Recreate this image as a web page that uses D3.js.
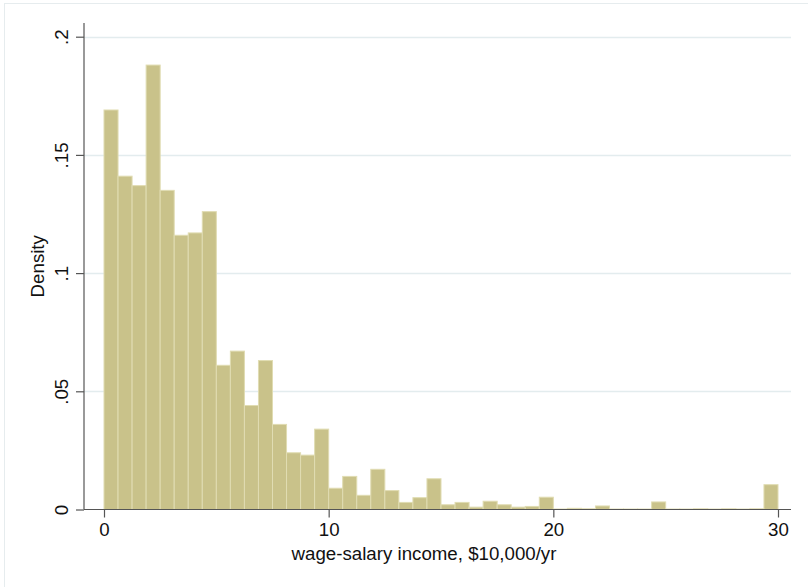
<!DOCTYPE html>
<html>
<head>
<meta charset="utf-8">
<script src="https://cdn.jsdelivr.net/npm/d3@7"></script>
<style>
  html, body { margin: 0; padding: 0; background: #fff; }
  svg { display: block; }
  text { font-family: "Liberation Sans", Arial, Helvetica, sans-serif; fill: #111; }
</style>
</head>
<body>
<svg id="chart" width="808" height="587"></svg>
<script>
// Histogram of wage-salary income (density scale), bins of width 0.625
const binWidth = 0.625;
const binCount = 48;
const densities = [
  0.169, 0.141, 0.137, 0.188, 0.135, 0.116, 0.117, 0.126,
  0.061, 0.067, 0.044, 0.063, 0.036, 0.024, 0.023, 0.034,
  0.009, 0.014, 0.006, 0.017, 0.008, 0.003, 0.005, 0.013,
  0.002, 0.003, 0.001, 0.0035, 0.002, 0.001, 0.0013, 0.0052,
  0.0002, 0.0005, 0.0003, 0.0015, 0.0002, 0.0002, 0.0002, 0.0032,
  0.0002, 0.0002, 0.0003, 0.0002, 0.0003, 0.0002, 0.0003, 0.0105
];
const xTicks = [0, 10, 20, 30];
const yTicks = [0, 0.05, 0.1, 0.15, 0.2];
const yTickLabels = ["0", ".05", ".1", ".15", ".2"];
const xTitle = "wage-salary income, $10,000/yr";
const yTitle = "Density";

const bins = d3.range(binCount).map(i => ({
  x0: i * binWidth,
  x1: (i + 1) * binWidth,
  d: densities[i]
}));

const svg = d3.select("#chart");
const fontSize = 18.7;

// plot region edges
const region = { left: 84, right: 791, top: 23, bottom: 509.5 };

const x = d3.scaleLinear().domain([0, 30]).range([104, 778]);
const y = d3.scaleLinear().domain([0, 0.2]).range([509.5, 36.7]);

// outer graph border
svg.append("rect")
  .attr("x", 4.5).attr("y", 3.5)
  .attr("width", 830).attr("height", 620)
  .attr("fill", "none")
  .attr("stroke", "#e6ecee")
  .attr("stroke-width", 1);

// horizontal gridlines
svg.append("g")
  .selectAll("line")
  .data(yTicks.filter(t => t > 0))
  .join("line")
  .attr("x1", region.left)
  .attr("x2", region.right)
  .attr("y1", d => Math.round(y(d)) + 0.5)
  .attr("y2", d => Math.round(y(d)) + 0.5)
  .attr("stroke", "#e3ecee")
  .attr("stroke-width", 1.4);

// bars
svg.append("g")
  .selectAll("rect")
  .data(bins)
  .join("rect")
  .attr("x", d => x(d.x0))
  .attr("width", d => x(d.x1) - x(d.x0))
  .attr("y", d => y(d.d))
  .attr("height", d => y(0) - y(d.d))
  .attr("fill", "#c9c28a")
  .attr("stroke", "#e0dcb2")
  .attr("stroke-width", 1);

// x axis
const xAxis = d3.axisBottom(x)
  .tickValues(xTicks)
  .tickFormat(d3.format("d"))
  .tickSize(8)
  .tickPadding(5);
const gx = svg.append("g")
  .attr("transform", `translate(0,${region.bottom})`)
  .call(xAxis);
gx.select(".domain").remove();
gx.append("line")
  .attr("x1", region.left).attr("x2", region.right)
  .attr("y1", 0).attr("y2", 0)
  .attr("stroke", "#555").attr("stroke-width", 1.2);
gx.selectAll(".tick line").attr("stroke", "#555").attr("stroke-width", 1.2);
gx.selectAll(".tick text")
  .attr("font-size", fontSize)
  .attr("fill", "#111")
  .attr("font-family", "Liberation Sans, Arial, sans-serif");

// y axis
const yAxis = d3.axisLeft(y)
  .tickValues(yTicks)
  .tickFormat((d, i) => yTickLabels[i])
  .tickSize(8);
const gy = svg.append("g")
  .attr("transform", `translate(${region.left},0)`)
  .call(yAxis);
gy.select(".domain").remove();
gy.append("line")
  .attr("x1", 0).attr("x2", 0)
  .attr("y1", region.top).attr("y2", region.bottom)
  .attr("stroke", "#555").attr("stroke-width", 1.2);
gy.selectAll(".tick line").attr("stroke", "#555").attr("stroke-width", 1.2);
gy.selectAll(".tick text")
  .attr("font-size", fontSize)
  .attr("fill", "#111")
  .attr("font-family", "Liberation Sans, Arial, sans-serif")
  .attr("text-anchor", "middle")
  .attr("x", null)
  .attr("dy", null)
  .attr("transform", "translate(-16,0) rotate(-90)");

// axis titles
svg.append("text")
  .attr("x", 424)
  .attr("y", 560)
  .attr("text-anchor", "middle")
  .attr("font-size", fontSize)
  .text(xTitle);

svg.append("text")
  .attr("transform", `translate(44,${(region.top + region.bottom) / 2}) rotate(-90)`)
  .attr("text-anchor", "middle")
  .attr("font-size", fontSize)
  .text(yTitle);
</script>
</body>
</html>
